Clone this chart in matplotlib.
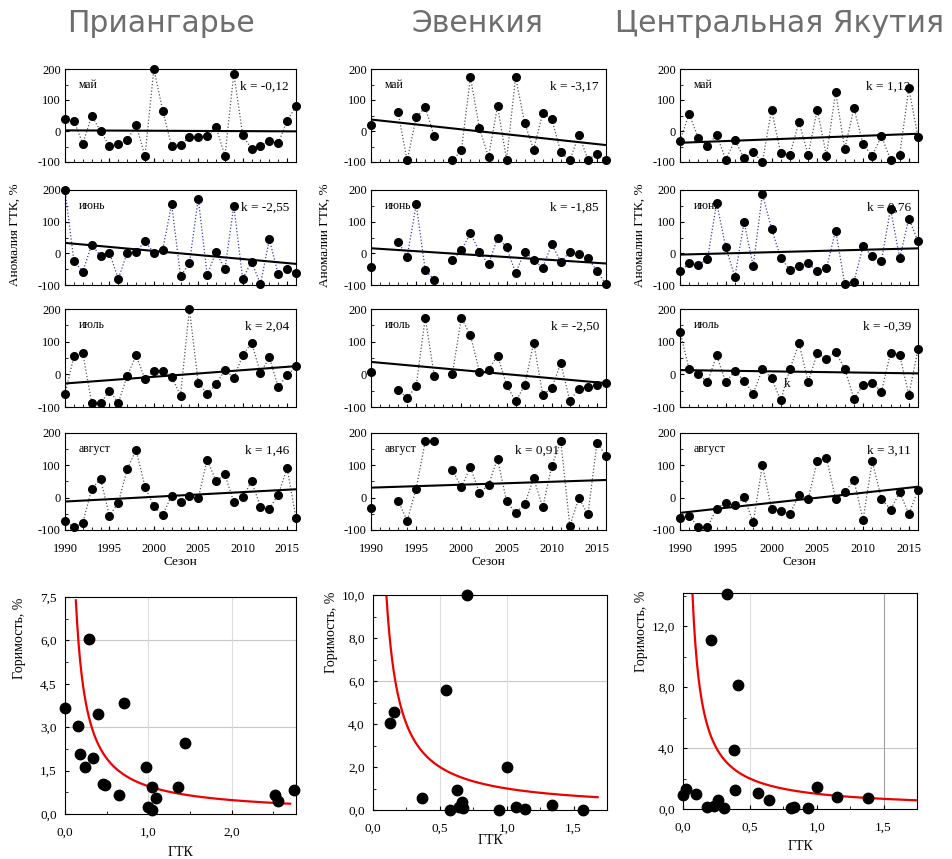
import numpy as np
import matplotlib
matplotlib.use("Agg")
import matplotlib.pyplot as plt
from matplotlib.ticker import MultipleLocator, FuncFormatter

plt.rcParams['font.family'] = ['Liberation Serif', 'DejaVu Serif']

W, H = 953, 859

# ---------------- data ----------------
years = list(range(1990, 2017))
regions = ["Приангарье", "Эвенкия", "Центральная Якутия"]
months = ["май", "июнь", "июль", "август"]
ylabels_ts = ["Аномалия ГТК, %", "Аномалии ГТК, %", "Аномалии ГТК, %"]
nan = np.nan

# Приангарье
pri_may = [38, 33, -41, 49, 0, -49, -43, -29, 19, -80, 200, 66, -49, -45, -20, -20, -17, 12, -80, 185, -12, -59, -47, -33, -40, 33, 80]
pri_jun = [200, -24, -58, 27, -8, 2, -80, 1, 4, 39, 1, 11, 156, -72, -32, 173, -68, 4, -50, 150, -80, -27, -97, 44, -66, -50, -61]
pri_jul = [-61, 55, 65, -87, -89, -50, -87, -5, 58, -14, 10, 10, -7, -65, 200, -26, -59, -31, 14, -11, 58, 97, 4, 52, -39, -3, 24]
pri_aug = [-71, -92, -79, 27, 58, -56, -16, 88, 148, 34, -27, -53, 6, -14, 4, -1, 118, 51, 72, -14, 1, 51, -28, -34, 9, 91, -64]

# Эвенкия
eve_may = [19, nan, nan, 60, -95, 44, 76, -17, nan, -95, -62, 173, 9, -84, 80, -92, 173, 26, -60, 58, 39, -69, -95, -12, -92, -74, -92]
eve_jun = [-44, nan, nan, 37, -12, 155, -53, -84, nan, -22, 10, 63, 5, -35, 48, 20, -63, 5, -21, -45, 29, -28, 5, -1, -14, -56, -98]
eve_jul = [8, nan, nan, -47, -73, -36, 173, -4, nan, 2, 173, 119, 8, 14, 57, -32, -83, -34, 97, -62, -42, 34, -81, -44, -38, -33, -28]
eve_aug = [-32, nan, nan, -9, -71, 28, 174, 174, nan, 86, 33, 94, 14, 40, 121, -11, -48, -20, 60, -30, 98, 174, -87, -1, -52, 170, 129]

# Центральная Якутия
yak_may = [-31, 55, -23, -49, -12, -92, -30, -88, -69, -100, 69, -72, -77, 29, -77, 69, -80, 126, -58, 74, -43, -80, -16, -92, -76, 138, -20]
yak_jun = [-57, -32, -36, -19, 160, 19, -74, 99, -40, 188, 78, -14, -52, -40, -31, -57, -47, 72, -96, -89, 22, -9, -24, 140, -15, 110, 38]
yak_jul = [130, 15, 0, -24, 58, -24, 10, -20, -59, 16, -11, -80, 16, 95, -22, 64, 48, 69, 16, -74, -34, -25, -54, 66, 59, -63, 77]
yak_aug = [-64, -56, -90, -92, -34, -15, -23, 1, -76, 101, -34, -41, -50, 8, -4, 113, 123, -4, 17, 54, -68, 113, -3, -37, 16, -50, 23]

series = [[pri_may, pri_jun, pri_jul, pri_aug],
          [eve_may, eve_jun, eve_jul, eve_aug],
          [yak_may, yak_jun, yak_jul, yak_aug]]

# linear trends: slope k (per year) and value in 1990
trend_k = [[-0.12, -2.55, 2.04, 1.46],
           [-3.17, -1.85, -2.50, 0.91],
           [1.12, 0.76, -0.39, 3.11]]
trend_start = [[2, 33, -28, -12],
               [37, 16, 38, 31],
               [-38, -4, 13, -47]]

# burned area vs ГТК
gtk_pri = [0.0, 0.16, 0.18, 0.24, 0.29, 0.33, 0.39, 0.46, 0.48, 0.65, 0.71, 0.97, 0.99, 1.04, 1.04, 1.09, 1.35, 1.44, 2.52, 2.55, 2.75]
burn_pri = [3.65, 3.04, 2.06, 1.63, 6.04, 1.94, 3.45, 1.03, 1.0, 0.64, 3.84, 1.63, 0.23, 0.15, 0.94, 0.54, 0.94, 2.44, 0.64, 0.44, 0.83]
gtk_eve = [0.705, 0.545, 0.158, 0.13, 1.0, 0.625, 0.37, 0.665, 0.645, 0.67, 0.575, 0.94, 1.07, 1.14, 1.34, 1.57]
burn_eve = [10.0, 5.58, 4.57, 4.03, 1.98, 0.93, 0.54, 0.39, 0.16, 0.11, 0.0, 0.0, 0.16, 0.03, 0.23, 0.0]
gtk_yak = [0.33, 0.207, 0.41, 0.38, 0.39, 0.0, 0.02, 0.095, 0.18, 0.23, 0.26, 0.31, 0.56, 0.64, 0.81, 0.83, 0.935, 1.0, 1.15, 1.38]
burn_yak = [14.15, 11.1, 8.14, 3.89, 1.27, 0.94, 1.33, 1.0, 0.11, 0.22, 0.61, 0.07, 1.05, 0.61, 0.04, 0.11, 0.04, 1.44, 0.81, 0.74]
scatter_x = [gtk_pri, gtk_eve, gtk_yak]
scatter_y = [burn_pri, burn_eve, burn_yak]

# power-law fits  y = a * x**b
fit_a = [0.96, 1.0, 1.0]
fit_b = [-1.0, -1.0, -1.0]
fit_range = [(0.13, 2.7), (0.10, 1.68), (0.07, 1.78)]

# ---------------- layout (pixels) ----------------
col_lr = [(65, 296), (371, 606), (680, 918)]
row_tb = [(69, 162), (190, 285), (309, 407), (433, 530)]
sc_box = [(65, 296, 597, 814), (373, 607, 595, 810), (683, 917, 593, 809)]
title_x = [161, 477, 780]


def px_axes(l, r, t, b):
    return fig.add_axes([l / W, 1 - b / H, (r - l) / W, (b - t) / H])


comma = FuncFormatter(lambda v, p: f"{v:.1f}".replace(".", ","))
intfmt = FuncFormatter(lambda v, p: f"{int(round(v))}")

fig = plt.figure(figsize=(W / 100, H / 100), dpi=100)

for c in range(3):
    fig.text(title_x[c] / W, 1 - 23 / H, regions[c], family='DejaVu Sans',
             fontsize=21.5, color='#6e6e6e', ha='center', va='center')
    l, r = col_lr[c]
    for m in range(4):
        t, b = row_tb[m]
        ax = px_axes(l, r, t, b)
        vals = np.array(series[c][m], dtype=float)
        lc = '#3b3ba8' if m == 1 else '#555555'
        ax.plot(years, vals, ls=(0, (1, 1.6)), lw=0.9, color=lc, zorder=2)
        ax.plot(years, vals, 'o', ms=5.5, color='black', clip_on=False, zorder=4)
        tx = np.array([1990, 2016])
        ax.plot(tx, trend_start[c][m] + trend_k[c][m] * (tx - 1990), color='black', lw=1.5, zorder=3)
        ax.set_xlim(1990, 2016)
        ax.set_ylim(-100, 200)
        ax.xaxis.set_major_locator(MultipleLocator(5))
        ax.xaxis.set_minor_locator(MultipleLocator(1))
        ax.yaxis.set_major_locator(MultipleLocator(100))
        ax.yaxis.set_minor_locator(MultipleLocator(50))
        ax.yaxis.set_major_formatter(intfmt)
        ax.tick_params(which='both', direction='in', top=False, right=False, labelsize=9, pad=3)
        ax.tick_params(axis='x', pad=9)
        ax.tick_params(which='major', length=3)
        ax.tick_params(which='minor', length=2)
        for s in ax.spines.values():
            s.set_linewidth(0.8)
        if m < 3:
            ax.tick_params(axis='x', labelbottom=False)
        else:
            ax.set_xlabel("Сезон", fontsize=9.5, labelpad=1)
        ax.text(14 / (r - l), 1 - 16 / (b - t), months[m], transform=ax.transAxes,
                fontsize=8.5, ha='left', va='center')
        kx = 0.97 if not (c == 1 and m == 3) else 0.80
        ax.text(kx, 1 - 18 / (b - t), ("k = " + f"{trend_k[c][m]:.2f}").replace(".", ","),
                transform=ax.transAxes, fontsize=9.5, ha='right', va='center')
        if c == 2 and m == 2:
            ax.text(2001.7, -30, "k", fontsize=9.5, ha='center', va='center')
    fig.text([15, 325, 640][c] / W, 1 - 235 / H, ylabels_ts[c], rotation=90,
             fontsize=9.5, ha='center', va='center')

# ---------------- scatter panels ----------------
sc_ylim = [7.5, 10.0, 14.2]
sc_xlim = [2.77, 1.75, 1.75]
sc_ymaj = [1.5, 2.0, 4.0]
sc_xmaj = [1.0, 0.5, 0.5]
sc_hgrid = [[3.0, 6.0], [6.0], [4.0]]
sc_vgrid = [[1.0, 2.0], [0.5, 1.0], [0.5, 1.5]]
sc_ylabel_xy = [(20, 638), (332, 632), (642, 631)]
sc_xlabel_y = [852, 840, 846]

for c in range(3):
    l, r, t, b = sc_box[c]
    ax = px_axes(l, r, t, b)
    for g in sc_hgrid[c]:
        ax.axhline(g, color='#c8c8c8', lw=0.8, zorder=1)
    for g in sc_vgrid[c]:
        ax.axvline(g, color='#dcdcdc' if not (c == 2 and g == 1.5) else '#a0a0a0', lw=0.8, zorder=1)
    x0, x1 = fit_range[c]
    fx = np.linspace(x0, x1, 300)
    ax.plot(fx, fit_a[c] * fx ** fit_b[c], color='#ee0000', lw=1.6, zorder=2)
    ax.plot(scatter_x[c], scatter_y[c], 'o', ms=7.5, color='black', clip_on=False, zorder=3)
    ax.set_xlim(0, sc_xlim[c])
    ax.set_ylim(0, sc_ylim[c])
    ax.xaxis.set_major_locator(MultipleLocator(sc_xmaj[c]))
    ax.xaxis.set_minor_locator(MultipleLocator(sc_xmaj[c] / 2))
    ax.yaxis.set_major_locator(MultipleLocator(sc_ymaj[c]))
    ax.yaxis.set_minor_locator(MultipleLocator(sc_ymaj[c] / 2))
    ax.xaxis.set_major_formatter(comma)
    ax.yaxis.set_major_formatter(comma)
    ax.tick_params(which='both', direction='in', top=False, right=False, labelsize=9.5, pad=6)
    ax.tick_params(axis='x', pad=9)
    ax.tick_params(which='major', length=3)
    ax.tick_params(which='minor', length=2)
    for s in ax.spines.values():
        s.set_linewidth(0.8)
    lx, ly = sc_ylabel_xy[c]
    fig.text(lx / W, 1 - ly / H, "Горимость, %", rotation=90,
             fontsize=10, ha='center', va='center')
    fig.text(((l + r) / 2) / W, 1 - sc_xlabel_y[c] / H, "ГТК", fontsize=10, ha='center', va='center')

fig.savefig("out.png", dpi=100)
